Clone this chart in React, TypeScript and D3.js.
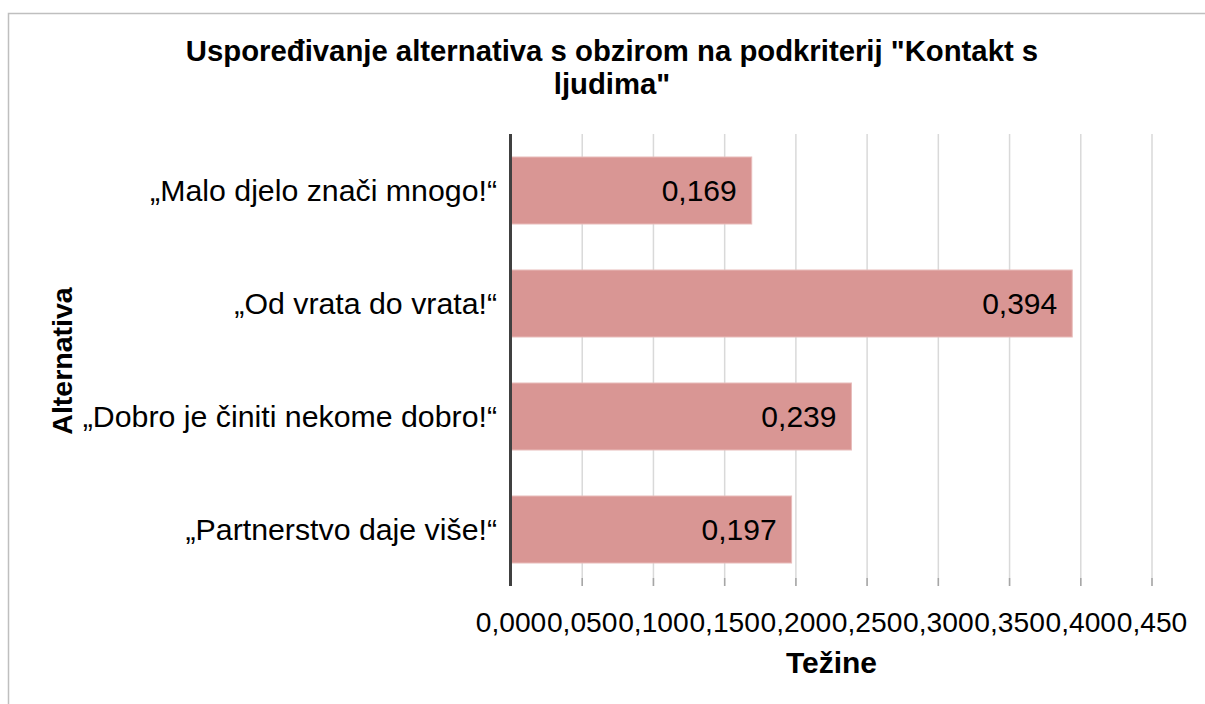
import React from "react";
import * as d3 from "d3";

const titleLines = ["Uspoređivanje alternativa s obzirom na podkriterij \"Kontakt s", "ljudima\""];
const categories = ["„Malo djelo znači mnogo!“", "„Od vrata do vrata!“", "„Dobro je činiti nekome dobro!“", "„Partnerstvo daje više!“"];
const values = [0.169, 0.394, 0.239, 0.197];
const valueLabels = ["0,169", "0,394", "0,239", "0,197"];
const ticks = [0, 0.05, 0.1, 0.15, 0.2, 0.25, 0.3, 0.35, 0.4, 0.45];
const tickLabels = ["0,000", "0,050", "0,100", "0,150", "0,200", "0,250", "0,300", "0,350", "0,400", "0,450"];
const xAxisTitle = "Težine";
const yAxisTitle = "Alternativa";

const W = 1205;
const H = 704;
const FONT = "'Liberation Sans', Arial, sans-serif";

export default function App() {
  const x = d3.scaleLinear().domain([0, 0.45]).range([511, 1152]);
  const y = d3
    .scaleBand<string>()
    .domain(categories)
    .range([134, 586])
    .paddingInner(0.407)
    .paddingOuter(0.2035);
  const top = 134;
  const bottom = 586;
  return (
    <svg
      width={W}
      height={H}
      style={{ position: "absolute", left: 0, top: 0, display: "block" }}
      fontFamily={FONT}
    >
      <rect x={0} y={0} width={W} height={H} fill="#fff" />
      <rect x={8.5} y={13.5} width={1400} height={900} fill="#fff" stroke="#bfbfbf" strokeWidth={1.5} />
      {titleLines.map((t, i) => (
        <text key={i} x={612} y={61 + i * 33} textAnchor="middle" fontSize={29.3} fontWeight="bold" fill="#000">
          {t}
        </text>
      ))}
      {ticks.slice(1).map((t, i) => (
        <line key={i} x1={x(t)} x2={x(t)} y1={top} y2={bottom} stroke="#d9d9d9" strokeWidth={1.5} />
      ))}
      {ticks.slice(1).map((t, i) => (
        <line key={"tk" + i} x1={x(t)} x2={x(t)} y1={bottom - 8} y2={bottom} stroke="#a6a6a6" strokeWidth={1.5} />
      ))}
      {categories.map((c, i) => {
        const by = y(c) as number;
        const bh = y.bandwidth();
        return (
          <g key={c}>
            <rect x={x(0)} y={by} width={x(values[i]) - x(0)} height={bh} fill="#D99694" stroke="#e8bcbb" strokeWidth={1} />
            <text x={x(values[i]) - 15} y={by + bh / 2 + 10.5} textAnchor="end" fontSize={30} fill="#000">
              {valueLabels[i]}
            </text>
            <text x={497} y={by + bh / 2 + 10.5} textAnchor="end" fontSize={30.3} fill="#000">
              {c}
            </text>
          </g>
        );
      })}
      <line x1={510.5} x2={510.5} y1={top} y2={bottom} stroke="#404040" strokeWidth={3} />
      {ticks.map((t, i) => (
        <text key={"tl" + i} x={x(t)} y={632} textAnchor="middle" fontSize={28.2} fill="#000">
          {tickLabels[i]}
        </text>
      ))}
      <text x={(x(0) + x(0.45)) / 2} y={673} textAnchor="middle" fontSize={30} fontWeight="bold" fill="#000">
        {xAxisTitle}
      </text>
      <text
        transform={`translate(72, ${(top + bottom) / 2 + 1}) rotate(-90)`}
        textAnchor="middle"
        fontSize={28.5}
        fontWeight="bold"
        fill="#000"
      >
        {yAxisTitle}
      </text>
    </svg>
  );
}
